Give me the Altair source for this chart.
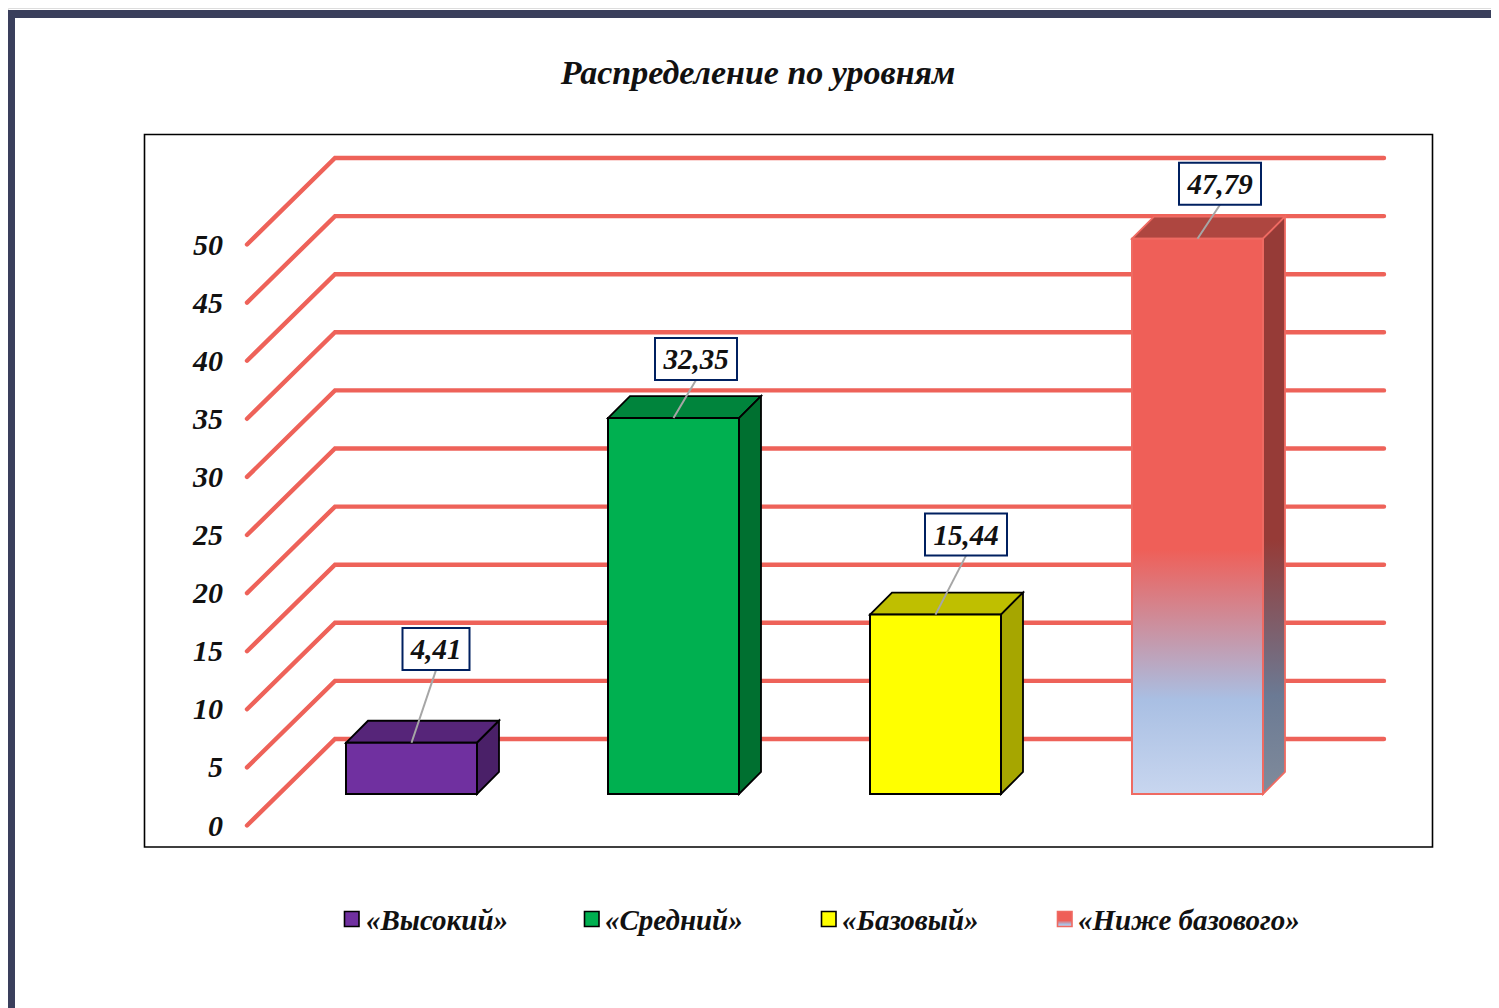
import altair as alt
import pandas as pd

categories = ["«Высокий»", "«Средний»", "«Базовый»", "«Ниже базового»"]
values = [4.41, 32.35, 15.44, 47.79]
value_labels = ["4,41", "32,35", "15,44", "47,79"]
tick_values = [0, 5, 10, 15, 20, 25, 30, 35, 40, 45, 50]
front_colors = ["#7030A0", "#00B050", "#FFFF00", None]
top_colors = ["#562579", "#00843C", "#BFBF00", "#AE4640"]
side_colors = ["#4A2068", "#007030", "#A6A600", None]
edge_colors = ["#000000", "#000000", "#000000", "#EF6A62"]
label_rise_px = [93.7, 59, 80, 55]
label_shift_px = [24.5, 22.5, 30.5, 22.5]
label_width_px = [67, 82, 82, 82]
legend_text_px = [366, 605, 842, 1078]
legend_box_px = [344, 584, 821, 1057]

W, H = 1483, 1000
FONT = "Liberation Serif"
PX_PER_VALUE = 11.62
PX_PER_CAT = 262.0

def ux(px):
    return (px - 411.5) / PX_PER_CAT
def vy(py):
    return (794 - py) / PX_PER_VALUE

xs = alt.Scale(domain=[ux(8), ux(8 + W)], range=[0, W], nice=False, zero=False)
ys = alt.Scale(domain=[vy(8 + H), vy(8)], range=[H, 0], nice=False, zero=False)
X = lambda f="x": alt.X(f + ":Q", scale=xs, axis=None)
Y = lambda f="y": alt.Y(f + ":Q", scale=ys, axis=None)

DX = 22 / PX_PER_CAT
DY = 22 / PX_PER_VALUE
HALF = 65.5 / PX_PER_CAT
layers = []

# page frame
NAVY = "#3A3F5C"
layers.append(alt.Chart(pd.DataFrame({"x": [ux(8)], "x2": [ux(15)], "y": [vy(10)], "y2": [vy(8 + H)]}))
              .mark_rect(color=NAVY).encode(x=X(), x2="x2:Q", y=Y(), y2="y2:Q"))
layers.append(alt.Chart(pd.DataFrame({"x": [ux(8)], "x2": [ux(8 + W)], "y": [vy(10)], "y2": [vy(18)]}))
              .mark_rect(color=NAVY).encode(x=X(), x2="x2:Q", y=Y(), y2="y2:Q"))
# plot box
layers.append(alt.Chart(pd.DataFrame({"x": [ux(144.5)], "x2": [ux(1432.5)], "y": [vy(134.5)], "y2": [vy(847)]}))
              .mark_rect(fill="white", stroke="black", strokeWidth=1.6).encode(x=X(), x2="x2:Q", y=Y(), y2="y2:Q"))

# gridlines: front edge of the floor, back corner, right end
rows = []
for t in tick_values:
    base = t
    rows += [
        {"t": t, "o": 0, "x": ux(247), "y": base + vy(825.5)},
        {"t": t, "o": 1, "x": ux(335), "y": base + vy(739)},
        {"t": t, "o": 2, "x": ux(1384), "y": base + vy(739)},
    ]
layers.append(alt.Chart(pd.DataFrame(rows)).mark_line(color="#EE6259", strokeWidth=4.4, strokeCap="round", strokeJoin="miter")
              .encode(x=X(), y=Y(), detail="t:N", order="o:Q"))

# tick labels
layers.append(alt.Chart(pd.DataFrame({"t": tick_values, "x": [ux(223)] * 11,
                                      "y": [t + vy(825.5) for t in tick_values],
                                      "s": [str(t) for t in tick_values]}))
              .mark_text(font=FONT, fontSize=30, fontStyle="italic", fontWeight="bold", align="right", baseline="middle", color="#111111", dy=1)
              .encode(x=X(), y=Y(), text="s:N"))

front_grad = alt.Gradient(gradient="linear", x1=0, x2=0, y1=0, y2=1, stops=[
    alt.GradientStop(color="#EF5F58", offset=0), alt.GradientStop(color="#EF5F58", offset=0.56),
    alt.GradientStop(color="#A9BFE3", offset=0.83), alt.GradientStop(color="#C8D6EF", offset=1)])
side_grad = alt.Gradient(gradient="linear", x1=0, x2=0, y1=0, y2=1, stops=[
    alt.GradientStop(color="#963B37", offset=0), alt.GradientStop(color="#963B37", offset=0.56),
    alt.GradientStop(color="#6B7A94", offset=0.83), alt.GradientStop(color="#808B9B", offset=1)])

for i, v in enumerate(values):
    c = float(i)
    edge = edge_colors[i]
    # top face
    top = pd.DataFrame({"y": [v, v + DY], "x": [c - HALF, c - HALF + DX], "x2": [c + HALF, c + HALF + DX]})
    layers.append(alt.Chart(top).mark_area(orient="horizontal", fill=top_colors[i], stroke=edge, strokeWidth=1.8)
                  .encode(x=X(), x2="x2:Q", y=Y()))
    # side face
    side = pd.DataFrame({"x": [c + HALF, c + HALF + DX], "y": [v, v + DY], "y2": [0, DY]})
    layers.append(alt.Chart(side).mark_area(orient="vertical", fill=side_colors[i] or side_grad, stroke=edge, strokeWidth=1.8)
                  .encode(x=X(), y=Y(), y2="y2:Q"))
    # front face
    front = pd.DataFrame({"x": [c - HALF], "x2": [c + HALF], "y": [v], "y2": [0]})
    layers.append(alt.Chart(front).mark_rect(fill=front_colors[i] or front_grad, stroke=edge, strokeWidth=2)
                  .encode(x=X(), x2="x2:Q", y=Y(), y2="y2:Q"))
    # value label with leader
    cx = c + label_shift_px[i] / PX_PER_CAT
    cy = v + label_rise_px[i] / PX_PER_VALUE
    half_h = 21 / PX_PER_VALUE
    half_w = label_width_px[i] / 2 / PX_PER_CAT
    leader = pd.DataFrame({"x": [c, cx], "y": [v, cy - half_h], "o": [0, 1]})
    layers.append(alt.Chart(leader).mark_line(color="#A6A6A6", strokeWidth=2).encode(x=X(), y=Y(), order="o:Q"))
    box = pd.DataFrame({"x": [cx - half_w], "x2": [cx + half_w], "y": [cy - half_h], "y2": [cy + half_h]})
    layers.append(alt.Chart(box).mark_rect(fill="white", stroke="#002060", strokeWidth=2)
                  .encode(x=X(), x2="x2:Q", y=Y(), y2="y2:Q"))
    layers.append(alt.Chart(pd.DataFrame({"x": [cx], "y": [cy], "s": [value_labels[i]]}))
                  .mark_text(font=FONT, fontSize=29, fontStyle="italic", fontWeight="bold", align="center", baseline="middle", color="#111111", dy=1)
                  .encode(x=X(), y=Y(), text="s:N"))

# legend
swatch_grad = alt.Gradient(gradient="linear", x1=0, x2=0, y1=0, y2=1, stops=[
    alt.GradientStop(color="#EF5F58", offset=0), alt.GradientStop(color="#EF5F58", offset=0.6),
    alt.GradientStop(color="#A9BFE3", offset=0.85), alt.GradientStop(color="#C8D6EF", offset=1)])
for i, name in enumerate(categories):
    bx = legend_box_px[i]
    layers.append(alt.Chart(pd.DataFrame({"x": [ux(bx + 0.5)], "x2": [ux(bx + 15)], "y": [vy(911.5)], "y2": [vy(926.5)]}))
                  .mark_rect(fill=front_colors[i] or swatch_grad, stroke="#EF6A62" if front_colors[i] is None else "black", strokeWidth=1.6)
                  .encode(x=X(), x2="x2:Q", y=Y(), y2="y2:Q"))
    layers.append(alt.Chart(pd.DataFrame({"x": [ux(legend_text_px[i])], "y": [vy(920)], "s": [name]}))
                  .mark_text(font=FONT, fontSize=29, fontStyle="italic", fontWeight="bold", align="left", baseline="middle", color="#111111", dy=1)
                  .encode(x=X(), y=Y(), text="s:N"))

# title
layers.append(alt.Chart(pd.DataFrame({"x": [ux(758)], "y": [vy(73)], "s": ["Распределение по уровням"]}))
              .mark_text(font=FONT, fontSize=34, fontStyle="italic", fontWeight="bold", align="center", baseline="middle", color="#111111", dy=1)
              .encode(x=X(), y=Y(), text="s:N"))

chart = alt.layer(*layers).properties(width=W, height=H, padding=0).configure_view(stroke=None).configure(background="white")
chart.save("out.html", embed_options={"renderer": "svg", "actions": False})
